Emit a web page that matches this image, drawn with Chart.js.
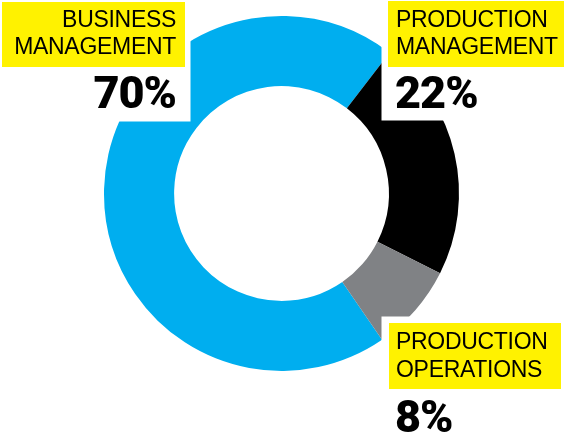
<!DOCTYPE html>
<html>
<head>
<meta charset="utf-8">
<script src="https://cdn.jsdelivr.net/npm/chart.js@4.4.1/dist/chart.umd.min.js"></script>
<style>
  html, body { margin: 0; padding: 0; background: #ffffff; }
  #wrap { position: relative; width: 569px; height: 436px; }
</style>
</head>
<body>
<div id="wrap"><canvas id="c" width="569" height="436"></canvas></div>
<script>
// ---- data ----
const categories = ["BUSINESS MANAGEMENT", "PRODUCTION MANAGEMENT", "PRODUCTION OPERATIONS"];
const labelLines = [["BUSINESS", "MANAGEMENT"], ["PRODUCTION", "MANAGEMENT"], ["PRODUCTION", "OPERATIONS"]];
const shares = [70, 22, 8];
const sliceColors = ["#00AEEF", "#000000", "#808285"];

// ---- label placement (styles / positions, not data) ----
const labelLayout = [
  { align: "right", x: 176, box: [2, 2, 185, 67], cover: [0, 0, 190.5, 121.5], lineY: [26.7, 54.3], pctY: 108.3 },
  { align: "left",  x: 396, box: [388, 1, 564, 67], cover: [381.5, 0, 569, 120.5], lineY: [26.7, 54.3], pctY: 108.3 },
  { align: "left",  x: 396, box: [389, 323, 561, 389], cover: [381.5, 316.5, 569, 436], lineY: [349.3, 376.7], pctY: 431.7 }
];

const labelPlugin = {
  id: "calloutLabels",
  afterDraw(chart) {
    const ctx = chart.ctx;
    ctx.save();
    labelLayout.forEach((L, i) => {
      // white knock-out area
      ctx.fillStyle = "#ffffff";
      ctx.fillRect(L.cover[0], L.cover[1], L.cover[2] - L.cover[0], L.cover[3] - L.cover[1]);
      // yellow box
      ctx.fillStyle = "#FFF200";
      ctx.fillRect(L.box[0], L.box[1], L.box[2] - L.box[0], L.box[3] - L.box[1]);
      // category text
      ctx.fillStyle = "#000000";
      ctx.textAlign = L.align;
      ctx.textBaseline = "alphabetic";
      ctx.font = "23px 'Liberation Sans', Arial, sans-serif";
      ctx.letterSpacing = "-0.3px";
      labelLines[i].forEach((t, k) => ctx.fillText(t, L.x, L.lineY[k]));
      // percentage
      ctx.font = "900 45px Roboto, 'Liberation Sans', sans-serif";
      ctx.letterSpacing = "-1px";
      ctx.fillText(shares[i] + "%", L.align === "right" ? L.x : L.x - 1, L.pctY);
    });
    ctx.restore();
  }
};

new Chart(document.getElementById("c"), {
  type: "doughnut",
  data: {
    labels: categories,
    datasets: [{
      data: shares,
      backgroundColor: sliceColors,
      borderWidth: 0,
      hoverOffset: 0
    }]
  },
  options: {
    responsive: false,
    animation: false,
    cutout: "60.5%",
    rotation: 145.5,
    layout: { padding: { left: 104, right: 110, top: 16, bottom: 65 } },
    plugins: {
      legend: { display: false },
      tooltip: { enabled: false },
      title: { display: false }
    }
  },
  plugins: [labelPlugin]
});
</script>
</body>
</html>
